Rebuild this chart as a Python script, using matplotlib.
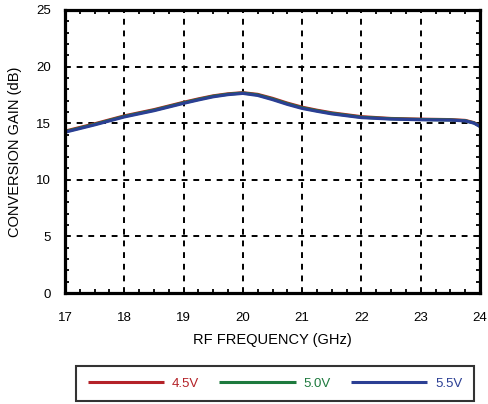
import matplotlib
matplotlib.use("Agg")
import matplotlib.pyplot as plt
import numpy as np
from matplotlib.ticker import MultipleLocator

plt.rcParams["font.family"] = ["Liberation Sans", "DejaVu Sans"]

# data
freq_ghz = [17.0, 17.5, 18.0, 18.5, 19.0, 19.25, 19.5, 19.75, 20.0, 20.25, 20.5, 20.75, 21.0, 21.25, 21.5, 22.0, 22.5, 23.0, 23.5, 23.75, 23.9, 24.0]
gain_45v = [14.3, 14.95, 15.65, 16.2, 16.85, 17.15, 17.42, 17.6, 17.7, 17.55, 17.2, 16.78, 16.42, 16.15, 15.92, 15.58, 15.42, 15.36, 15.32, 15.25, 15.05, 14.75]
gain_50v = [14.25, 14.9, 15.6, 16.15, 16.8, 17.1, 17.38, 17.56, 17.67, 17.5, 17.14, 16.72, 16.36, 16.1, 15.87, 15.53, 15.39, 15.33, 15.29, 15.22, 15.02, 14.72]
gain_55v = [14.2, 14.85, 15.55, 16.1, 16.75, 17.05, 17.33, 17.52, 17.63, 17.45, 17.08, 16.66, 16.3, 16.05, 15.82, 15.49, 15.36, 15.3, 15.27, 15.2, 15.0, 14.7]
labels = ["4.5V", "5.0V", "5.5V"]
colors = ["#B42228", "#1E7A3E", "#2B3F94"]

W, H = 488, 404
fig = plt.figure(figsize=(W / 100, H / 100), dpi=100)
ax = fig.add_axes([65 / W, 1 - 293 / H, (480 - 65) / W, (293 - 10) / H])

lines = []
for g, lab, c in zip([gain_45v, gain_50v, gain_55v], labels, colors):
    (ln,) = ax.plot(freq_ghz, g, color=c, lw=2.2, label=lab, solid_capstyle="butt")
    lines.append(ln)

ax.set_xlim(17, 24)
ax.set_ylim(0, 25)
ax.xaxis.set_major_locator(MultipleLocator(1))
ax.xaxis.set_minor_locator(MultipleLocator(0.25))
ax.yaxis.set_major_locator(MultipleLocator(5))
ax.yaxis.set_minor_locator(MultipleLocator(1))
ax.grid(True, which="major", color="black", ls=(0, (3, 3)), lw=1.4)
ax.tick_params(which="both", direction="in", top=True, right=True, width=1.3, labelsize=9.5)
ax.tick_params(which="major", length=0, pad=14)
ax.tick_params(axis="y", which="major", pad=10)
ax.tick_params(which="minor", length=3)
for s in ax.spines.values():
    s.set_linewidth(2.3)

ax.set_xlabel("RF FREQUENCY (GHz)", fontsize=10.5, labelpad=6)
ax.set_ylabel("CONVERSION GAIN (dB)", fontsize=10.5, labelpad=10)

leg = fig.legend(
    handles=lines,
    loc="center",
    bbox_to_anchor=((75 + 475) / 2 / W, 1 - 383.5 / H),
    ncol=3,
    fontsize=9.5,
    handlelength=5.8,
    handletextpad=0.6,
    columnspacing=1.5,
    frameon=True,
    fancybox=False,
    edgecolor="black",
    borderpad=0.9,
    borderaxespad=0,
    labelcolor="linecolor",
)
leg.get_frame().set_linewidth(1.5)

fig.savefig("out.png", dpi=100)
